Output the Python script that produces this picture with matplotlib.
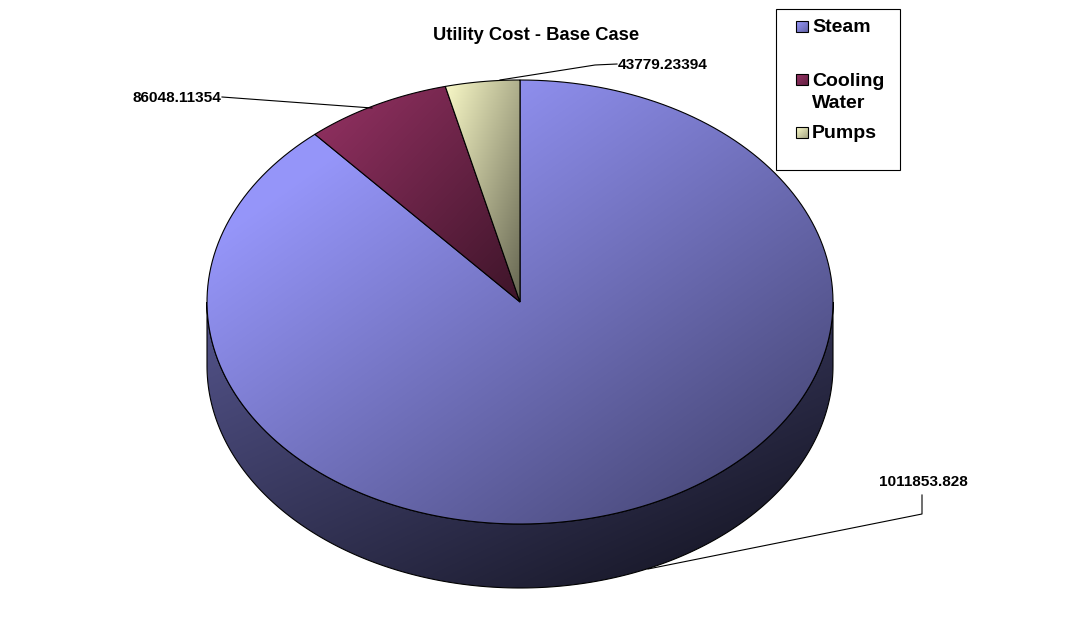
import matplotlib
matplotlib.use('Agg')
import matplotlib.pyplot as plt
from matplotlib.patches import PathPatch, Rectangle
from matplotlib.path import Path
import numpy as np

# data
labels = ['Steam', 'Cooling Water', 'Pumps']
values = [1011853.828, 86048.11354, 43779.23394]
value_labels = ['1011853.828', '86048.11354', '43779.23394']
colors = [(153, 153, 255), (153, 51, 102), (255, 255, 204)]

# pie geometry in pixels
cx, cy = 520, 302
rx, ry = 313, 222
depth = 64

plt.rcParams['font.family'] = ['Liberation Sans', 'DejaVu Sans']

fig = plt.figure(figsize=(10.73, 6.23), dpi=100)
ax = fig.add_axes([0, 0, 1, 1])
ax.set_xlim(0, 1073)
ax.set_ylim(623, 0)
ax.axis('off')


def rim(a0, a1, dy=0):
    t = np.radians(np.linspace(a0, a1, 200))
    return np.column_stack([cx + rx * np.sin(t), cy + dy - ry * np.cos(t)])


def fill_gradient(pts, col, start, end, zorder, flat=0.0):
    # diagonal gradient over the bounding box of the shape
    x0, y0 = pts.min(axis=0)
    x1, y1 = pts.max(axis=0)
    yy, xx = np.mgrid[0:1:200j, 0:1:200j]
    t = np.clip(((xx + yy) / 2 - flat) / (1 - flat), 0, 1)
    c = np.array(col) / 255
    img = np.stack([c[i] * (start + (end - start) * t) for i in range(3)], axis=2)
    im = ax.imshow(img, extent=(x0, x1, y1, y0), aspect='auto', zorder=zorder, interpolation='bilinear')
    patch = PathPatch(Path(np.vstack([pts, pts[0]]), closed=True), fc='none', ec='black', lw=0.8, zorder=zorder + 0.1)
    ax.add_patch(patch)
    im.set_clip_path(patch)


# wedges go clockwise from the top, last slice ends at 360
angles = np.cumsum(values) / sum(values) * 360
starts = np.concatenate([[0], angles[:-1]])

# side wall
side = np.vstack([rim(90, 270), rim(270, 90, depth)])
fill_gradient(side, colors[0], 0.55, 0.1, 1)

for a0, a1, col, z, flat in zip(starts, angles, colors, [2, 3, 4], [0.18, 0.0, 0.0]):
    pts = np.vstack([[cx, cy], rim(a0, a1)])
    fill_gradient(pts, col, 0.98, 0.4, z, flat)

# leader lines
leaders = [
    ([648, 922, 922], [569, 514, 495]),
    ([372, 222], [108, 97]),
    ([500, 595, 617], [80, 65, 64]),
]
for lx, ly in leaders:
    ax.plot(lx, ly, color='black', lw=0.8, zorder=1.5 if lx[0] == 648 else 6)

ax.text(923, 482, value_labels[0], fontsize=11.1, fontweight='bold', ha='center', va='center')
ax.text(221, 98, value_labels[1], fontsize=11.1, fontweight='bold', ha='right', va='center')
ax.text(618, 65, value_labels[2], fontsize=11.1, fontweight='bold', ha='left', va='center')

ax.text(536, 35, 'Utility Cost - Base Case', fontsize=13.2, fontweight='bold', ha='center', va='center')

# legend
ax.add_patch(Rectangle((776, 9), 124, 161, fc='white', ec='black', lw=0.8, zorder=7))
swatch_y = [21, 74, 127]
legend_text = [(812, 27, 'Steam'), (812, 81, 'Cooling'), (812, 103, 'Water'), (812, 134, 'Pumps')]
for y, col in zip(swatch_y, colors):
    sq = np.array([[796, y], [808, y], [808, y + 11], [796, y + 11]], dtype=float)
    fill_gradient(sq, col, 1.0, 0.65, 8)
for x, y, s in legend_text:
    ax.text(x, y, s, fontsize=14, fontweight='bold', ha='left', va='center', zorder=9)

ax.set_xlim(0, 1073)
ax.set_ylim(623, 0)
fig.savefig('out.png', dpi=100, facecolor='white')
